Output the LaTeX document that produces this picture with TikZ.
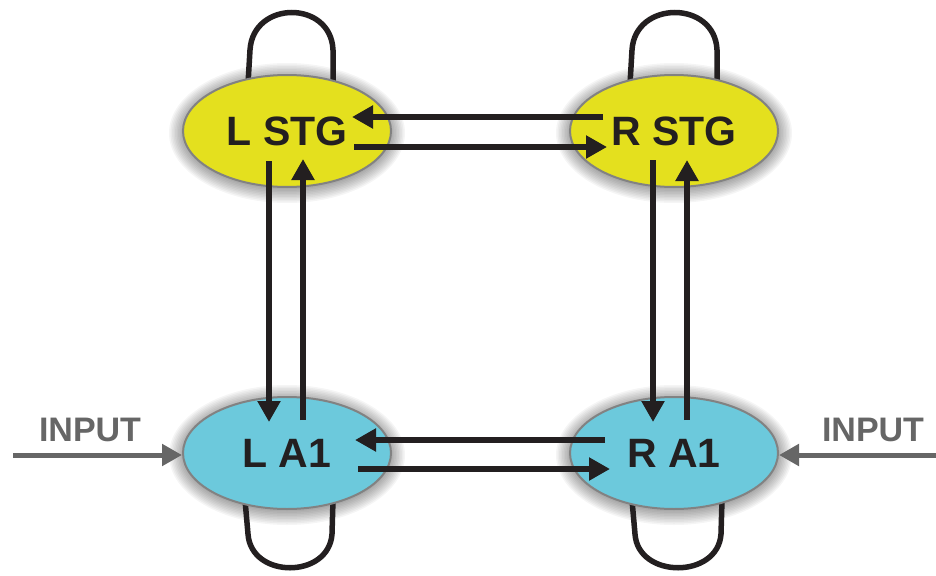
\documentclass[tikz,border=0pt]{standalone}
\usepackage{fontspec}
\setmainfont{Liberation Sans}
\usetikzlibrary{arrows.meta,shapes.geometric}

\definecolor{stgyellow}{RGB}{228,224,30}
\definecolor{aonecyan}{RGB}{108,201,220}
\definecolor{ink}{RGB}{35,31,32}
\definecolor{inputgray}{RGB}{102,102,102}
\definecolor{rimgray}{RGB}{130,130,130}

% soft halo behind an area ellipse
\newcommand{\halo}[2]{%
  \foreach \k in {1,...,10}{%
    \fill[black, opacity=0.04] (#1,#2+2) ellipse [x radius=103+\k*1.5, y radius=55+\k*1.5];
  }%
}

\begin{document}
\begin{tikzpicture}[x=1pt,y=-1pt,
  area/.style={ellipse, draw=rimgray, line width=2pt, minimum width=208pt,
    minimum height=112pt, inner sep=0pt, text=ink,
    font=\fontsize{41}{41}\selectfont\bfseries},
  stg/.style={area, fill=stgyellow},
  aone/.style={area, fill=aonecyan},
  link/.style={draw=ink, line width=5.5pt, -{Triangle[length=21pt,width=22pt]}},
  loopline/.style={draw=ink, line width=5.5pt},
  feed/.style={draw=inputgray, line width=5pt, -{Triangle[length=20pt,width=21pt]}},
  feedlabel/.style={text=inputgray, inner sep=0pt, font=\fontsize{34}{34}\selectfont\bfseries},
]
\useasboundingbox (0,0) rectangle (936,575);

% halos
\halo{287}{131}
\halo{674}{131}
\halo{287}{453}
\halo{674}{453}

% self loops (drawn first so the ellipses cover their ends)
\coordinate (lstgtop) at (248,84);
\coordinate (rstgtop) at (630,84);
\coordinate (la1bot) at (245,500);
\coordinate (ra1bot) at (632,500);
\draw[loopline] (lstgtop) -- ++(2,-34) .. controls +(3,-50) and +(-2,-50) .. ++(83,0) -- ++(0,34);
\draw[loopline] (rstgtop) -- ++(2,-34) .. controls +(3,-50) and +(-2,-50) .. ++(85,0) -- ++(0,34);
\draw[loopline] (la1bot) -- ++(3,34) .. controls +(3,45) and +(-3,45) .. ++(84,0) -- ++(1,-34);
\draw[loopline] (ra1bot) -- ++(3,34) .. controls +(3,45) and +(-3,45) .. ++(86,0) -- ++(1,-34);

% areas
\node[stg]  (lstg) at (287,131) {L STG};
\node[stg]  (rstg) at (674,131) {R STG};
\node[aone] (la1)  at (287,453) {L A1};
\node[aone] (ra1)  at (674,453) {R A1};

% horizontal links
\draw[link] ([shift={(-71,-14)}]rstg.center) -- ([shift={(65,-14)}]lstg.center);
\draw[link] ([shift={(67,16)}]lstg.center) -- ([shift={(-67,16)}]rstg.center);
\draw[link] ([shift={(-69,-13)}]ra1.center) -- ([shift={(68,-13)}]la1.center);
\draw[link] ([shift={(71,16)}]la1.center) -- ([shift={(-64,16)}]ra1.center);

% vertical links
\draw[link] ([shift={(-18,30)}]lstg.center) -- ([shift={(-18,-31)}]la1.center);
\draw[link] ([shift={(16,-33)}]la1.center) -- ([shift={(16,28)}]lstg.center);
\draw[link] ([shift={(-21,29)}]rstg.center) -- ([shift={(-21,-31)}]ra1.center);
\draw[link] ([shift={(13,-33)}]ra1.center) -- ([shift={(13,29)}]rstg.center);

% inputs
\coordinate (leftsrc) at (13,455);
\coordinate (rightsrc) at (936,455);
\node[feedlabel] (leftlabel) at (90,430) {INPUT};
\node[feedlabel] (rightlabel) at (873,430) {INPUT};
\draw[feed] (leftsrc) -- ([shift={(0,2)}]la1.west);
\draw[feed] (rightsrc) -- ([shift={(0,2)}]ra1.east);
\end{tikzpicture}
\end{document}
